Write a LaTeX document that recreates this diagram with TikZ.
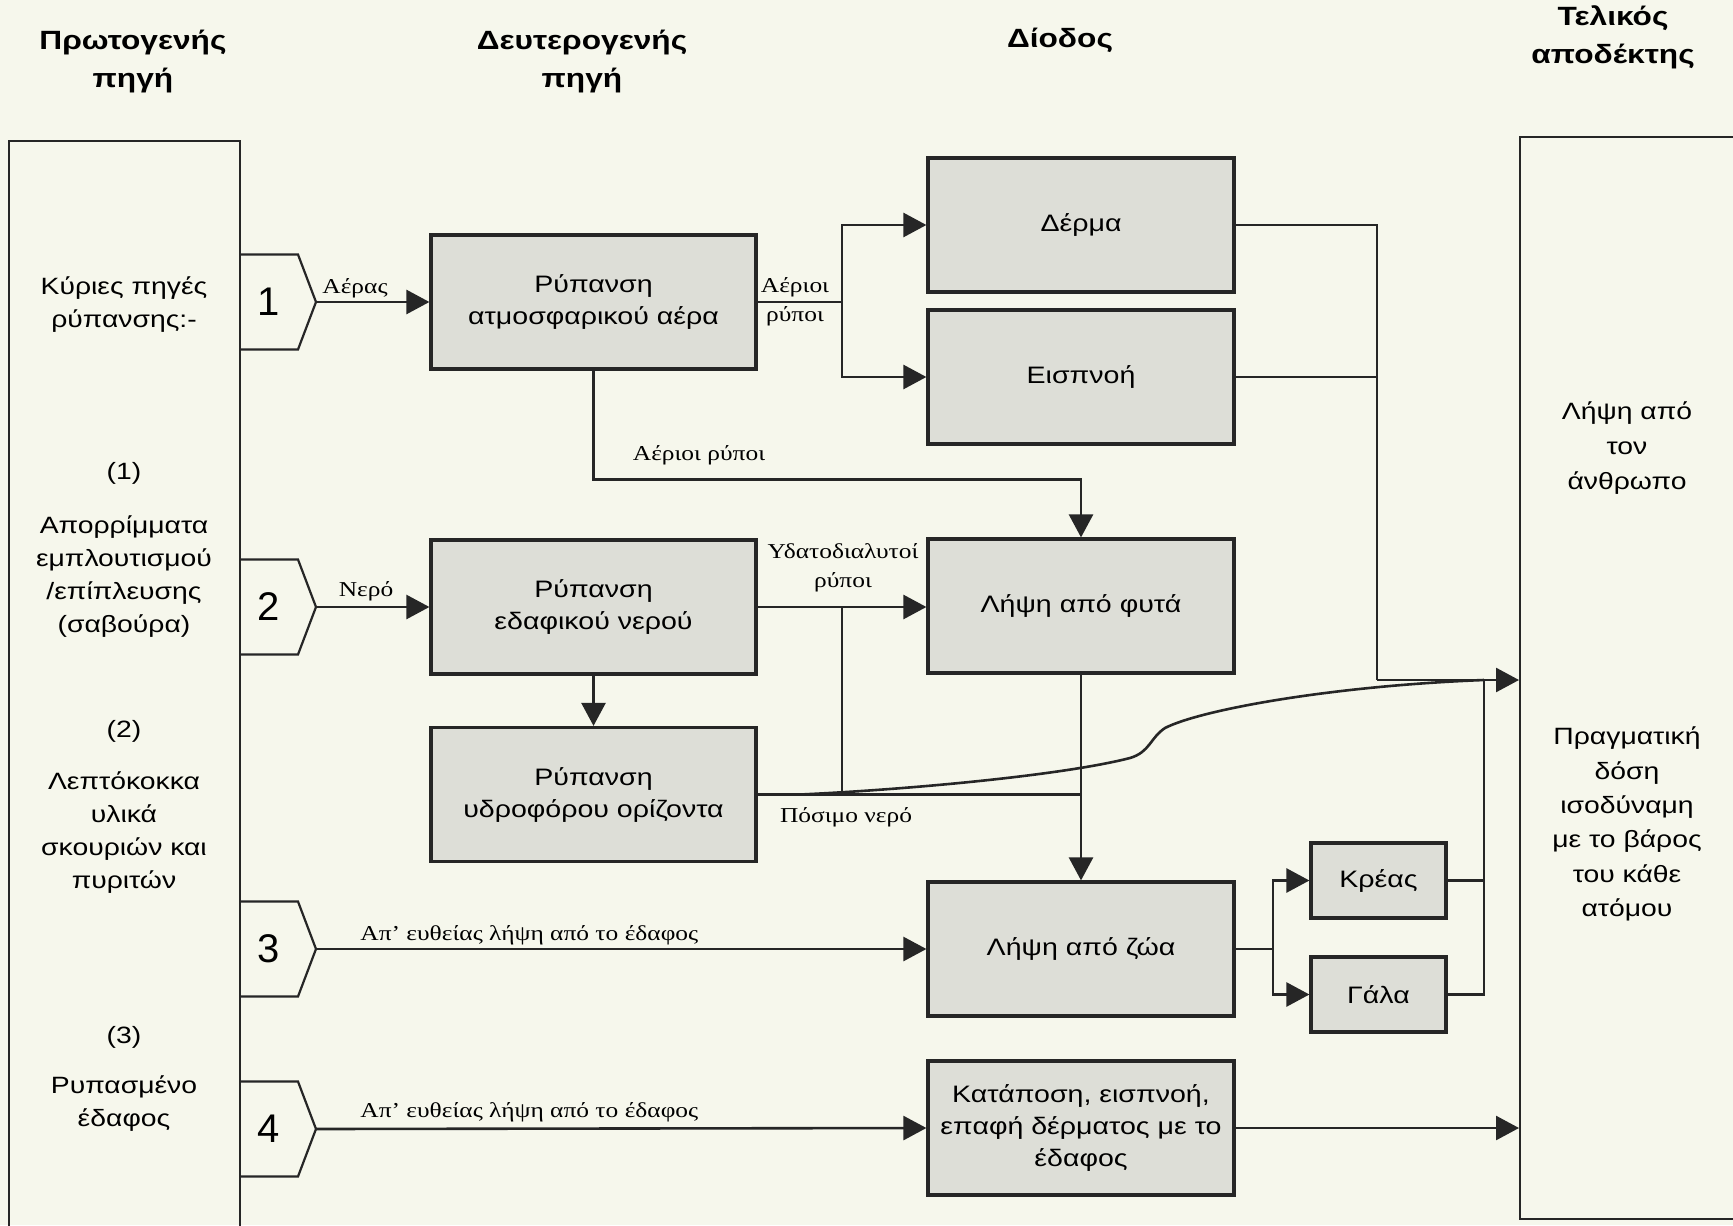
\documentclass[tikz,border=0pt]{standalone}
\usepackage{fontspec}
\setmainfont{Liberation Sans}[FakeStretch=1.2]
\newfontfamily\lblfont{Liberation Serif}[FakeStretch=1.2]
\newfontfamily\numfont{Liberation Sans}
\usetikzlibrary{arrows.meta}
\definecolor{paper}{RGB}{246,247,236}
\definecolor{boxgray}{RGB}{221,222,215}
\definecolor{ink}{RGB}{38,38,38}
\tikzset{
  gbox/.style={draw=ink,line width=1.6pt,fill=boxgray,align=center,inner sep=0pt,font=\fontsize{11.9}{16}\selectfont},
  bigbox/.style={gbox,minimum width=162.5pt,minimum height=67pt},
  midbox/.style={gbox,minimum width=153pt,minimum height=67pt},
  smallbox/.style={gbox,minimum width=67.5pt,minimum height=37.5pt},
  frame/.style={draw=ink,line width=1pt,inner sep=0pt},
  plaintext/.style={align=center,inner sep=0pt,font=\fontsize{11.8}{16.5}\selectfont},
  headtext/.style={align=center,inner sep=0pt,font=\bfseries\fontsize{13.2}{19}\selectfont},
  elabel/.style={align=center,inner sep=0pt,font=\lblfont\fontsize{10.6}{14.5}\selectfont},
  tagline/.style={draw=ink,line width=1.1pt},
  tagnum/.style={inner sep=0pt,font=\numfont\fontsize{20}{20}\selectfont},
  link/.style={draw=ink,line width=1.3pt},
  arr/.style={link,-{Triangle[length=11.5pt,width=12pt]}}
}
\begin{document}
\begin{tikzpicture}[x=0.5pt,y=0.5pt,yscale=-1]
\useasboundingbox (0,0) rectangle (1733,1225);
\fill[paper] (0,0) rectangle (1733,1225);
% column headers
\node[headtext] (h1) at (133,62) {Πρωτογενής\\πηγή};
\node[headtext] (h2) at (582,62) {Δευτερογενής\\πηγή};
\node[headtext] (h3) at (1060,40) {Δίοδος};
\node[headtext] (h4) at (1613,37) {Τελικός\\αποδέκτης};
% primary source and receptor
\node[frame,minimum width=115.5pt,minimum height=550pt] (src) at (124.5,691) {};
\node[frame,minimum width=120pt,minimum height=541pt] (recv) at (1640,678) {};
\node[plaintext] (s1) at (124,305) {Κύριες πηγές\\ρύπανσης:-};
\node[plaintext] (s2) at (124,473) {(1)};
\node[plaintext] (s3) at (124,577) {Απορρίμματα\\εμπλουτισμού\\/επίπλευσης\\(σαβούρα)};
\node[plaintext] (s4) at (124,731) {(2)};
\node[plaintext] (s5) at (124,833) {Λεπτόκοκκα\\υλικά\\σκουριών και\\πυριτών};
\node[plaintext] (s6) at (124,1037) {(3)};
\node[plaintext] (s7) at (124,1104) {Ρυπασμένο\\έδαφος};
\node[plaintext,font=\fontsize{11.8}{17.5}\selectfont] (r1) at (1627,448) {Λήψη από\\τον\\άνθρωπο};
\node[plaintext,font=\fontsize{11.8}{17.2}\selectfont] (r2) at (1627,824) {Πραγματική\\δόση\\ισοδύναμη\\με το βάρος\\του κάθε\\ατόμου};
% numbered tags
\coordinate (t1) at (316,302);
\coordinate (t2) at (316,607);
\coordinate (t3) at (316,949);
\coordinate (t4) at (316,1129);
\draw[tagline] (240,254.5) -- (298,254.5) -- (t1) -- (298,349.5) -- (240,349.5);
\draw[tagline] (240,559.5) -- (298,559.5) -- (t2) -- (298,654.5) -- (240,654.5);
\draw[tagline] (240,901.5) -- (298,901.5) -- (t3) -- (298,996.5) -- (240,996.5);
\draw[tagline] (240,1081.5) -- (298,1081.5) -- (t4) -- (298,1176.5) -- (240,1176.5);
\node[tagnum] (n1) at (269,302) {1};
\node[tagnum] (n2) at (269,607) {2};
\node[tagnum] (n3) at (269,949) {3};
\node[tagnum] (n4) at (269,1129) {4};
% boxes
\node[bigbox] (atm) at (593.5,302) {Ρύπανση\\ατμοσφαρικού αέρα};
\node[bigbox] (edaf) at (593.5,607) {Ρύπανση\\εδαφικού νερού};
\node[bigbox] (ydrof) at (593.5,794.5) {Ρύπανση\\υδροφόρου ορίζοντα};
\node[midbox] (derma) at (1081,225) {Δέρμα};
\node[midbox] (eispnoi) at (1081,377) {Εισπνοή};
\node[midbox] (fyta) at (1081,606) {Λήψη από φυτά};
\node[midbox] (zoa) at (1081,949) {Λήψη από ζώα};
\node[midbox] (katap) at (1081,1128) {Κατάποση, εισπνοή,\\επαφή δέρματος με το\\έδαφος};
\node[smallbox] (kreas) at (1378.5,880.5) {Κρέας};
\node[smallbox] (gala) at (1378.5,994.5) {Γάλα};
% air
\draw[arr] (t1) -- (atm.west);
\node[elabel] (l1) at (355,288) {Αέρας};
\coordinate (j1) at (842,302);
\draw[link] (atm.east) -- (j1);
\draw[arr] (j1) |- (derma.west);
\draw[arr] (j1) |- (eispnoi.west);
\node[elabel] (l2) at (795,302) {Αέριοι\\ρύποι};
\coordinate (j2) at (1377,680);
\draw[link] (derma.east) -| (j2);
\draw[link] (eispnoi.east) -- (eispnoi.east -| j2);
\draw[arr] (j2) -- (recv.west |- j2);
\draw[arr] (atm.south) -- ++(0,109) -| (fyta.north);
\node[elabel] (l3) at (699,455) {Αέριοι ρύποι};
% water
\draw[arr] (t2) -- (edaf.west);
\node[elabel] (l4) at (366,591) {Νερό};
\draw[arr] (edaf.east) -- (edaf.east -| fyta.west);
\node[elabel] (l5) at (843,568) {Υδατοδιαλυτοί\\ρύποι};
\draw[arr] (edaf.south) -- (ydrof.north);
\draw[link] (edaf.east -| j1) -- (ydrof.east -| j1);
\draw[link] (ydrof.east) -- (ydrof.east -| fyta.south);
\node[elabel] (l6) at (846,817) {Πόσιμο νερό};
\coordinate (j5) at (1484,680);
\coordinate (c0) at (800,794.5);
\draw[link] (c0) .. controls (900,790) and (1060,776) .. (1130,758) .. controls (1150,752) and (1150,738) .. (1165,728) .. controls (1200,710) and (1330,686) .. (j5);
\draw[arr] (fyta.south) -- (zoa.north);
% animals
\coordinate (j6) at (1273,949);
\draw[link] (zoa.east) -- (j6);
\draw[arr] (j6) |- (kreas.west);
\draw[arr] (j6) |- (gala.west);
\draw[link] (gala.east) -| (j5);
\draw[link] (kreas.east) -- (kreas.east -| j5);
% soil
\draw[arr] (t3) -- (zoa.west);
\node[elabel,anchor=base west] (l7) at (360,940) {Απ’ ευθείας λήψη από το έδαφος};
\draw[arr] (t4) -- (katap.west);
\node[elabel,anchor=base west] (l8) at (360,1117) {Απ’ ευθείας λήψη από το έδαφος};
\draw[arr] (katap.east) -- (recv.west |- katap.east);
\end{tikzpicture}
\end{document}
